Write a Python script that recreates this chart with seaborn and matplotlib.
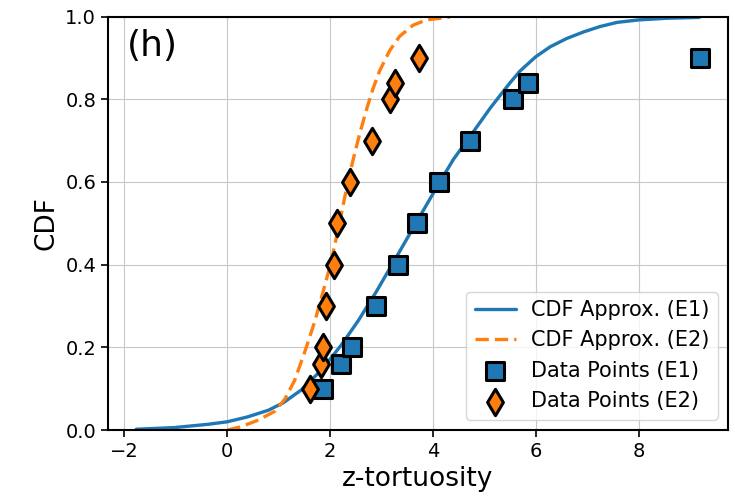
import matplotlib
matplotlib.use("Agg")
import matplotlib.pyplot as plt
import seaborn as sns
import numpy as np
import pandas as pd

# CDF approximation curves
e1_curve_x = [-1.77, -1.03, -0.37, 0.0, 0.40, 0.80, 1.09, 1.44, 1.83, 2.22, 2.55, 2.90,
              3.32, 3.69, 4.11, 4.40, 4.72, 5.11, 5.31, 5.50, 5.69, 6.0, 6.28, 6.60,
              6.93, 7.25, 7.58, 8.0, 8.55, 9.18]
e1_curve_y = [0.002, 0.006, 0.014, 0.02, 0.032, 0.048, 0.066, 0.097, 0.145, 0.206, 0.265, 0.335,
              0.425, 0.505, 0.595, 0.655, 0.71, 0.778, 0.81, 0.84, 0.868, 0.903, 0.927, 0.947,
              0.963, 0.976, 0.986, 0.992, 0.996, 0.998]

e2_curve_x = [0.0, 0.27, 0.60, 0.92, 1.12, 1.31, 1.51, 1.70, 1.86, 2.0, 2.09, 2.18,
              2.31, 2.44, 2.57, 2.70, 2.83, 2.96, 3.16, 3.35, 3.61, 3.87, 4.26, 4.33]
e2_curve_y = [0.0, 0.008, 0.024, 0.045, 0.075, 0.12, 0.19, 0.262, 0.333, 0.397, 0.447, 0.500,
              0.578, 0.650, 0.714, 0.772, 0.824, 0.868, 0.918, 0.952, 0.979, 0.992, 0.998, 0.999]

# Data points
e1_x = [1.87, 2.21, 2.42, 2.90, 3.32, 3.69, 4.11, 4.72, 5.56, 5.84, 9.19]
e1_y = [0.10, 0.16, 0.20, 0.30, 0.40, 0.50, 0.60, 0.70, 0.80, 0.84, 0.90]
e2_x = [1.61, 1.82, 1.87, 1.93, 2.07, 2.13, 2.39, 2.82, 3.17, 3.27, 3.72]
e2_y = [0.10, 0.16, 0.20, 0.30, 0.40, 0.50, 0.60, 0.70, 0.80, 0.84, 0.90]

x_ticks = [-2, 0, 2, 4, 6, 8]
y_ticks = [0.0, 0.2, 0.4, 0.6, 0.8, 1.0]

sns.set_style("whitegrid", {
    "axes.edgecolor": "black",
    "grid.color": "#c8c8c8",
    "xtick.bottom": True,
    "ytick.left": True,
    "text.color": "black",
    "axes.labelcolor": "black",
    "xtick.color": "black",
    "ytick.color": "black",
})
plt.rcParams["font.family"] = ["DejaVu Sans"]

fig, ax = plt.subplots(figsize=(7.35, 5.03), dpi=100)
fig.subplots_adjust(left=0.147, right=0.9905, top=0.967, bottom=0.145)

blue = "#1f77b4"
orange = "#ff7f0e"

sns.lineplot(x=e1_curve_x, y=e1_curve_y, ax=ax, color=blue, lw=2.4,
             label="CDF Approx. (E1)", sort=False)
sns.lineplot(x=e2_curve_x, y=e2_curve_y, ax=ax, color=orange, lw=2.4,
             linestyle=(0, (4.0, 1.8)), label="CDF Approx. (E2)", sort=False)
sns.scatterplot(x=e1_x, y=e1_y, ax=ax, marker="s", s=160, color=blue,
                edgecolor="black", linewidth=2.2, label="Data Points (E1)", zorder=3)
sns.scatterplot(x=e2_x, y=e2_y, ax=ax, marker="d", s=180, color=orange,
                edgecolor="black", linewidth=2.2, label="Data Points (E2)", zorder=3)

ax.set_ylim(0, 1)
ax.set_xticks(x_ticks)
ax.set_yticks(y_ticks)
ax.set_yticklabels([f"{v:.1f}" for v in y_ticks])
ax.tick_params(axis="both", labelsize=14, length=5, width=1.2, color="black",
               labelcolor="black")
for sp in ax.spines.values():
    sp.set_linewidth(1.5)
    sp.set_color("black")
ax.set_xlabel("z-tortuosity", fontsize=19, color="black")
ax.set_ylabel("CDF", fontsize=19, color="black")
ax.text(0.03, 0.97, "(h)", transform=ax.transAxes, fontsize=26, va="top", ha="left",
        color="black")

leg = ax.legend(loc="lower right", fontsize=15, framealpha=0.8, handletextpad=0.7)
for t in leg.get_texts():
    t.set_color("black")

fig.savefig("out.png", dpi=100)
